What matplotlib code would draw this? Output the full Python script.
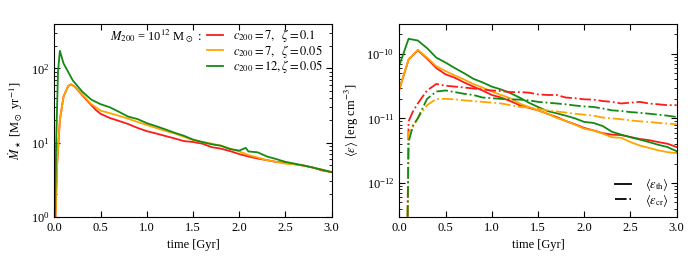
import matplotlib
matplotlib.use('Agg')
import matplotlib.pyplot as plt
from matplotlib.lines import Line2D

plt.rcParams['font.family'] = 'serif'
plt.rcParams['font.serif'] = ['Liberation Serif', 'DejaVu Serif']
plt.rcParams['mathtext.fontset'] = 'stix'
plt.rcParams['font.size'] = 9

# ---- left panel: star formation rate [Msun/yr]
t_sfr_lo = [0.0, 0.03, 0.06, 0.1, 0.15, 0.18, 0.22, 0.3, 0.4, 0.45, 0.5, 0.6, 0.7, 0.8, 0.9,
            1.0, 1.1, 1.2, 1.3, 1.4, 1.5, 1.6, 1.7, 1.8, 1.9, 2.0, 2.1, 2.2, 2.3,
            2.4, 2.5, 2.6, 2.7, 2.8, 2.9, 3.0]
sfr_red = [0.3, 5, 20, 42, 58, 61, 57, 44, 32, 27.5, 24.5, 21.5, 19.6, 17.8, 15.8,
           14.3, 13.3, 12.3, 11.4, 10.5, 10.2, 9.7, 8.7, 8.3, 7.7, 7.0, 6.5, 6.1, 5.8,
           5.5, 5.35, 5.1, 4.9, 4.6, 4.2, 4.0]
sfr_orange = [0.3, 5, 20, 42, 58, 61, 57, 45, 33, 30, 27, 25.0, 23.0, 21.0, 19,
              17.3, 15.8, 14.4, 13.3, 12.0, 10.8, 10.2, 9.7, 9.1, 8.3, 7.6, 6.8, 6.3, 5.8,
              5.5, 5.2, 5.1, 4.9, 4.6, 4.3, 4.0]
t_sfr_hi = [0.0, 0.02, 0.04, 0.06, 0.1, 0.2, 0.3, 0.4, 0.5, 0.6, 0.7, 0.8, 0.9,
            1.0, 1.1, 1.2, 1.3, 1.4, 1.5, 1.6, 1.7, 1.8, 1.9, 2.0, 2.07, 2.1, 2.2, 2.3,
            2.4, 2.5, 2.6, 2.7, 2.8, 2.9, 3.0]
sfr_green = [0.3, 10, 90, 173, 117, 69, 49, 38, 33, 30, 26, 22.4, 20.8,
             18.3, 16.7, 15.1, 13.6, 12.4, 11.0, 10.2, 9.5, 9.1, 8.2, 7.8, 8.5, 7.6, 7.4, 6.5,
             6.0, 5.5, 5.2, 4.9, 4.6, 4.3, 4.0]

# ---- right panel: energy densities [erg/cm^3]
t_th = [0.0, 0.1, 0.2, 0.3, 0.4, 0.5, 0.6, 0.7, 0.8, 0.9, 1.0, 1.1, 1.2, 1.3, 1.4, 1.5,
        1.6, 1.7, 1.8, 1.9, 2.0, 2.1, 2.2, 2.3, 2.4, 2.5, 2.6, 2.7, 2.8, 2.9, 3.0]
th_red = [2.8e-11, 8.1e-11, 1.13e-10, 8.4e-11, 6.0e-11, 4.8e-11, 4.25e-11, 3.6e-11,
          3.1e-11, 2.7e-11, 2.3e-11, 2.1e-11, 1.85e-11, 1.6e-11, 1.46e-11, 1.33e-11,
          1.18e-11, 1.05e-11, 9.1e-12, 8.1e-12, 7.1e-12, 6.5e-12, 5.9e-12, 5.6e-12,
          5.5e-12, 5.15e-12, 4.8e-12, 4.6e-12, 4.3e-12, 4.05e-12, 3.6e-12]
th_orange = [2.8e-11, 8.1e-11, 1.15e-10, 8.7e-11, 6.4e-11, 5.4e-11, 4.6e-11, 4.0e-11,
             3.4e-11, 3.0e-11, 2.6e-11, 2.3e-11, 2.05e-11, 1.7e-11, 1.5e-11, 1.33e-11,
             1.18e-11, 1.02e-11, 9.1e-12, 8.0e-12, 6.9e-12, 6.5e-12, 5.8e-12, 5.1e-12,
             5.0e-12, 4.3e-12, 3.8e-12, 3.5e-12, 3.2e-12, 3.0e-12, 2.9e-12]
th_green = [6.6e-11, 1.7e-10, 1.6e-10, 1.22e-10, 8.7e-11, 7.3e-11, 6.0e-11, 5.0e-11,
            4.1e-11, 3.6e-11, 3.1e-11, 2.8e-11, 2.46e-11, 2.1e-11, 1.75e-11, 1.5e-11,
            1.3e-11, 1.2e-11, 1.1e-11, 1.0e-11, 8.8e-12, 8.5e-12, 7.6e-12, 6.2e-12,
            5.6e-12, 5.1e-12, 4.7e-12, 4.3e-12, 3.9e-12, 3.6e-12, 3.1e-12]

t_cr = [0.09, 0.1, 0.15, 0.2, 0.3, 0.4, 0.5, 0.6, 0.7, 0.8, 0.9, 1.0, 1.1, 1.2, 1.3, 1.4,
        1.5, 1.6, 1.7, 1.8, 1.9, 2.0, 2.1, 2.2, 2.3, 2.4, 2.5, 2.6, 2.7, 2.8, 2.9, 3.0]
cr_red = [3e-13, 9.0e-12, 1.3e-11, 1.7e-11, 2.7e-11, 3.4e-11, 3.2e-11, 3.1e-11, 3.0e-11,
          2.9e-11, 2.8e-11, 2.7e-11, 2.65e-11, 2.55e-11, 2.55e-11, 2.5e-11, 2.35e-11,
          2.3e-11, 2.3e-11, 2.1e-11, 2.05e-11, 1.97e-11, 1.95e-11, 1.85e-11, 1.8e-11,
          1.7e-11, 1.75e-11, 1.8e-11, 1.7e-11, 1.65e-11, 1.6e-11, 1.6e-11]
cr_orange = [3e-13, 6.0e-12, 7.5e-12, 1.0e-11, 1.6e-11, 2.0e-11, 2.0e-11, 1.97e-11, 1.9e-11,
             1.85e-11, 1.8e-11, 1.75e-11, 1.7e-11, 1.6e-11, 1.5e-11, 1.47e-11, 1.4e-11,
             1.33e-11, 1.28e-11, 1.23e-11, 1.18e-11, 1.14e-11, 1.1e-11, 1.03e-11, 1.0e-11,
             9.7e-12, 9.3e-12, 9.0e-12, 8.8e-12, 8.5e-12, 8.3e-12, 8.1e-12]
cr_green = [3e-13, 4.3e-12, 7.8e-12, 1.0e-11, 2.0e-11, 2.6e-11, 2.7e-11, 2.55e-11, 2.4e-11,
            2.3e-11, 2.1e-11, 2.05e-11, 2.0e-11, 1.97e-11, 1.95e-11, 1.9e-11, 1.8e-11,
            1.75e-11, 1.7e-11, 1.65e-11, 1.58e-11, 1.53e-11, 1.5e-11, 1.42e-11, 1.33e-11,
            1.3e-11, 1.25e-11, 1.22e-11, 1.18e-11, 1.14e-11, 1.1e-11, 1.05e-11]

labels = [r'$c_{200} = 7,\ \ \zeta = 0.1$', r'$c_{200} = 7,\ \ \zeta = 0.05$',
          r'$c_{200} = 12, \zeta = 0.05$']
colors = ['#ff1a1a', '#ffa500', '#138a13']

fig = plt.figure(figsize=(6.9, 2.59), dpi=100)
ax1 = fig.add_axes([0.0787, 0.163, 0.402, 0.745])
ax2 = fig.add_axes([0.5787, 0.163, 0.402, 0.745])

ax1.semilogy(t_sfr_lo, sfr_red, color=colors[0], lw=1.3, label=labels[0])
ax1.semilogy(t_sfr_lo, sfr_orange, color=colors[1], lw=1.3, label=labels[1])
ax1.semilogy(t_sfr_hi, sfr_green, color=colors[2], lw=1.3, label=labels[2])
ax1.set_xlim(0, 3)
ax1.set_ylim(1, 400)
ax1.set_xlabel('time [Gyr]')
ax1.set_ylabel(r'$\dot{M}_\star$ [M$_\odot$ yr$^{-1}$]')
ax1.legend(loc='upper left', bbox_to_anchor=(0.54, 1.0), frameon=False,
           handlelength=1.3, handletextpad=0.75, borderpad=0.25, labelspacing=-0.1,
           borderaxespad=0.0)
ax1.text(0.2, 0.935, r'$M_{200}$ = 10$^{12}$ M$_\odot$ :', transform=ax1.transAxes,
         va='center', ha='left')

ax2.semilogy(t_th, th_red, color=colors[0], lw=1.3)
ax2.semilogy(t_th, th_orange, color=colors[1], lw=1.3)
ax2.semilogy(t_th, th_green, color=colors[2], lw=1.3)
ax2.semilogy(t_cr, cr_red, color=colors[0], lw=1.3, ls='-.')
ax2.semilogy(t_cr, cr_orange, color=colors[1], lw=1.3, ls='-.')
ax2.semilogy(t_cr, cr_green, color=colors[2], lw=1.3, ls='-.')
ax2.set_xlim(0, 3)
ax2.set_ylim(3e-13, 2.9e-10)
ax2.set_xlabel('time [Gyr]')
ax2.set_ylabel(r'$\langle\varepsilon\rangle$ [erg cm$^{-3}$]')
handles = [Line2D([], [], color='k', lw=1.3, ls='-'),
           Line2D([], [], color='k', lw=1.3, ls='-.')]
ax2.legend(handles, [r'$\langle\varepsilon_{\rm th}\rangle$', r'$\langle\varepsilon_{\rm cr}\rangle$'],
           loc='lower right', bbox_to_anchor=(1.0, 0.0), frameon=False,
           handlelength=1.3, handletextpad=1.1, borderpad=0.15, labelspacing=-0.1)

for ax in (ax1, ax2):
    ax.set_xticks([0.0, 0.5, 1.0, 1.5, 2.0, 2.5, 3.0])
    ax.tick_params(which='both', direction='in', top=True, right=True)
    ax.tick_params(which='major', length=4)
    ax.tick_params(which='minor', length=2)

fig.savefig('out.png', dpi=100)
